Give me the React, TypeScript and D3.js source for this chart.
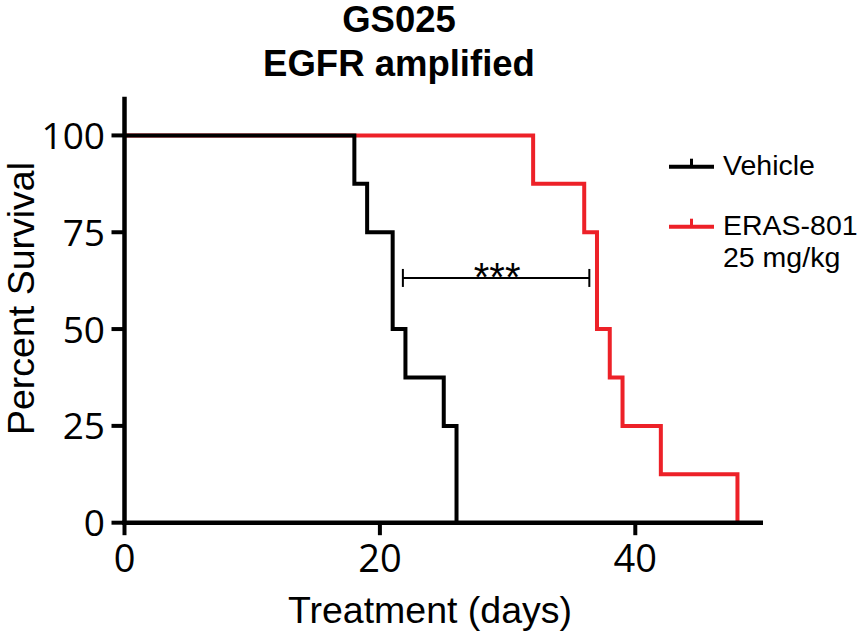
import React from "react";
import * as d3 from "d3";

const titleLines = ["GS025", "EGFR amplified"];
const xTicks = [0, 20, 40];
const yTicks = [0, 25, 50, 75, 100];
const vehicleDays = [0, 18, 19, 21, 22, 25, 26];
const vehicleSurvival = [100, 87.5, 75, 50, 37.5, 25, 0];
const erasDays = [0, 32, 36, 37, 38, 39, 42, 48];
const erasSurvival = [100, 87.5, 75, 50, 37.5, 25, 12.5, 0];
const sigDays = [21.8, 36.4];
const sigLevel = 63.2;
const sigLabel = "***";
const legendLabels = [["Vehicle"], ["ERAS-801", "25 mg/kg"]];
const xLabel = "Treatment (days)";
const yLabel = "Percent Survival";

const RED = "#ED2128";
const BLACK = "#000";
const sans = "'Liberation Sans', Arial, sans-serif";
const tickFont = "'Open Sans', 'Liberation Sans', sans-serif";

export default function App() {
  const x = d3.scaleLinear().domain([0, 50]).range([124.5, 763]);
  const y = d3.scaleLinear().domain([0, 110]).range([522.7, 96.7]);
  const line = d3
    .line<[number, number]>()
    .x((d) => x(d[0]))
    .y((d) => y(d[1]))
    .curve(d3.curveStepAfter);
  const vPts = vehicleDays.map((d, i) => [d, vehicleSurvival[i]] as [number, number]);
  const ePts = erasDays.map((d, i) => [d, erasSurvival[i]] as [number, number]);

  const legendColors = [BLACK, RED];
  const legendY = [166.7, 226.7];

  return (
    <svg
      width={866}
      height={635}
      style={{ position: "absolute", left: 0, top: 0, background: "#fff" }}
    >
      {/* title */}
      {titleLines.map((t, i) => (
        <text
          key={t}
          x={399}
          y={32 + i * 44}
          textAnchor="middle"
          fontFamily={sans}
          fontWeight="bold"
          fontSize={36.5}
        >
          {t}
        </text>
      ))}

      {/* survival curves */}
      <path d={line(ePts) || ""} fill="none" stroke={RED} strokeWidth={4} strokeLinejoin="miter" />
      <path d={line(vPts) || ""} fill="none" stroke={BLACK} strokeWidth={4} strokeLinejoin="miter" />

      {/* axes */}
      <line x1={x(0)} x2={x(0)} y1={y(110)} y2={y(0) + 2.2} stroke={BLACK} strokeWidth={4.5} />
      <line x1={x(0) - 2.2} x2={x(50)} y1={y(0)} y2={y(0)} stroke={BLACK} strokeWidth={4.5} />
      {yTicks.map((t) => (
        <g key={"y" + t}>
          <line x1={x(0) - 13} x2={x(0)} y1={y(t)} y2={y(t)} stroke={BLACK} strokeWidth={4} />
          <text
            x={105}
            y={y(t) + 13.5}
            textAnchor="end"
            fontFamily={tickFont}
            fontSize={37}
          >
            {t}
          </text>
        </g>
      ))}
      {xTicks.map((t) => (
        <g key={"x" + t}>
          <line x1={x(t)} x2={x(t)} y1={y(0)} y2={y(0) + 12.5} stroke={BLACK} strokeWidth={4} />
          <text
            x={x(t)}
            y={572}
            textAnchor="middle"
            fontFamily={tickFont}
            fontSize={38}
          >
            {t}
          </text>
        </g>
      ))}

      {/* axis titles */}
      <text x={430} y={623} textAnchor="middle" fontFamily={sans} fontSize={37.5}>
        {xLabel}
      </text>
      <text
        transform={`translate(34,298.5) rotate(-90)`}
        textAnchor="middle"
        fontFamily={sans}
        fontSize={37.5}
      >
        {yLabel}
      </text>

      {/* significance bar */}
      <g stroke={BLACK} strokeWidth={2}>
        <line x1={x(sigDays[0])} x2={x(sigDays[1])} y1={y(sigLevel)} y2={y(sigLevel)} />
        <line x1={x(sigDays[0])} x2={x(sigDays[0])} y1={y(sigLevel) - 9} y2={y(sigLevel) + 9} />
        <line x1={x(sigDays[1])} x2={x(sigDays[1])} y1={y(sigLevel) - 9} y2={y(sigLevel) + 9} />
      </g>
      <text
        x={(x(sigDays[0]) + x(sigDays[1])) / 2 + 1}
        y={y(sigLevel) + 13}
        textAnchor="middle"
        fontFamily={sans}
        fontSize={40}
      >
        {sigLabel}
      </text>

      {/* legend */}
      {legendLabels.map((lines, i) => (
        <g key={"lg" + i}>
          <line x1={669} x2={714} y1={legendY[i]} y2={legendY[i]} stroke={legendColors[i]} strokeWidth={4} />
          <line
            x1={691.5}
            x2={691.5}
            y1={legendY[i] - 8}
            y2={legendY[i]}
            stroke={legendColors[i]}
            strokeWidth={3}
          />
          {lines.map((l, j) => (
            <text
              key={l}
              x={723}
              y={legendY[i] + 8.5 + j * 32}
              fontFamily={sans}
              fontSize={28.5}
            >
              {l}
            </text>
          ))}
        </g>
      ))}
    </svg>
  );
}
